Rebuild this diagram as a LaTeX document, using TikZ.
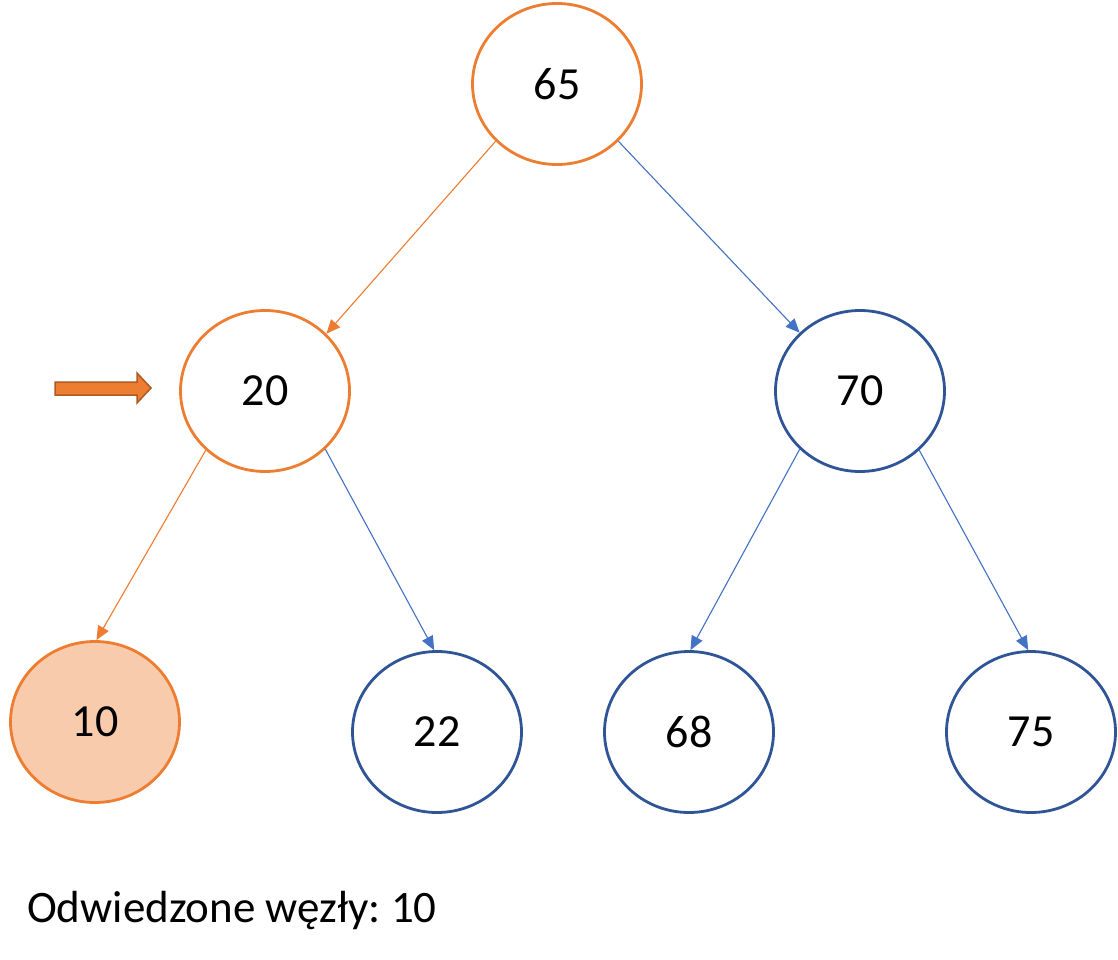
\documentclass[tikz,border=0pt]{standalone}
\usepackage{fontspec}
\setmainfont{Carlito}
\usetikzlibrary{shapes.geometric,arrows.meta}
\definecolor{offorange}{HTML}{ED7D31}
\definecolor{offorangedark}{HTML}{AE5A21}
\definecolor{offblue}{HTML}{4472C4}
\definecolor{offdarkblue}{HTML}{2F5597}
\definecolor{offpeach}{HTML}{F8CBAD}
\frenchspacing
\tikzset{
  treenode/.style={ellipse, draw=offdarkblue, line width=2.8pt, minimum width=169pt, minimum height=161pt, inner sep=0pt, font=\fontsize{46}{50}\selectfont},
  visited/.style={draw=offorange},
  current/.style={draw=offorange, fill=offpeach},
  edgeline/.style={line width=1.1pt, -{Triangle[length=14pt,width=12pt]}},
  blueedge/.style={edgeline, draw=offblue, fill=offblue},
  orangeedge/.style={edgeline, draw=offorange, fill=offorange},
}
\begin{document}
\begin{tikzpicture}[x=1pt,y=-1pt]
\useasboundingbox (0,0) rectangle (1118,960);
\node[treenode, visited] (n65) at (557,84) {65};
\node[treenode, visited] (n20) at (265,391) {20};
\node[treenode] (n70) at (860,391) {70};
\node[treenode, current] (n10) at (95,722) {10};
\node[treenode] (n22) at (437,732) {22};
\node[treenode] (n68) at (689,732) {68};
\node[treenode] (n75) at (1031,732) {75};
\draw[orangeedge] (n65.223) -- (n20.43);
\draw[blueedge] (n65.317) -- (n70.136);
\draw[orangeedge] (n20.225) -- (n10.89);
\draw[blueedge] (n20.316) -- (n22.92);
\draw[blueedge] (n70.224) -- (n68.89);
\draw[blueedge] (n70.315) -- (n75.92);
% pointer arrow
\draw[fill=offorange, draw=offorangedark, line width=1.5pt, line join=miter]
  (55,382) -- (137,382) -- (137,373) -- (151,388) -- (137,403) -- (137,395) -- (55,395) -- cycle;
\node[anchor=base west, inner sep=0pt, font=\fontsize{45}{50}\selectfont] (caption) at (27,922) {Odwiedzone węzły: 10};
\end{tikzpicture}
\end{document}
